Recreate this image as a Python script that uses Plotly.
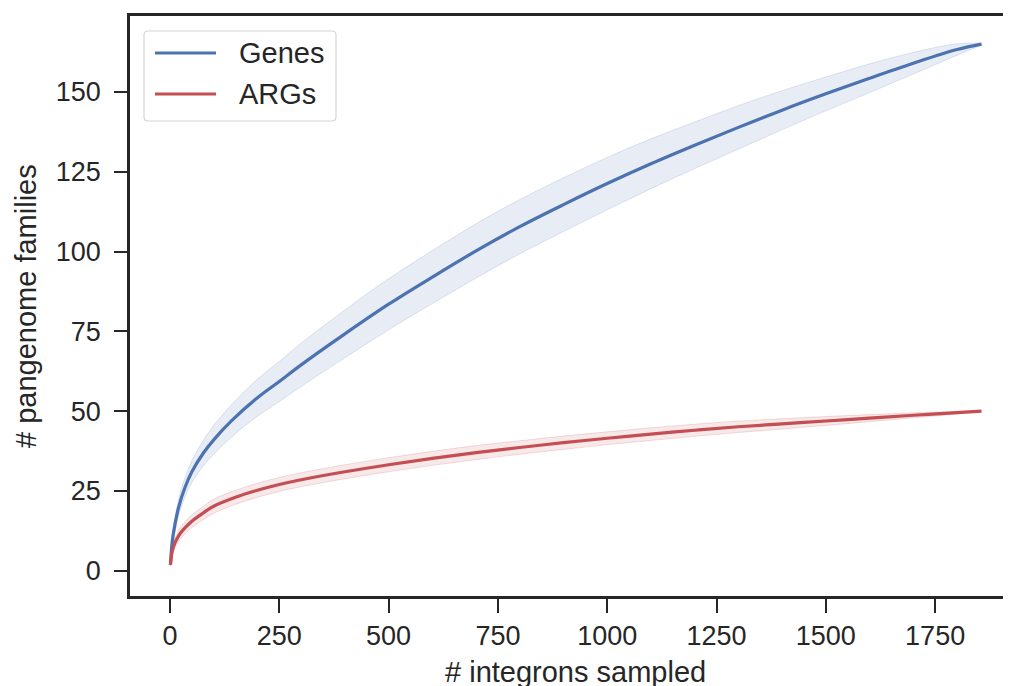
import numpy as np
import plotly.graph_objects as go

# ---- data ----
genes_x = [1, 5, 10, 20, 34, 50, 76, 100, 141, 200, 250, 300, 400, 500, 600, 700, 800,
           900, 1000, 1100, 1200, 1300, 1400, 1500, 1600, 1700, 1800, 1856]
genes_y = [1.8, 9.0, 13.5, 20.0, 26.0, 31.0, 36.8, 41.0, 47.0, 54.2, 59.3, 64.5, 74.2, 83.5,
           92.0, 100.2, 107.8, 114.7, 121.3, 127.5, 133.3, 138.9, 144.3, 149.4, 154.3,
           159.0, 163.3, 165.0]
genes_hw = [0.3, 1.5, 2.0, 2.6, 3.0, 3.4, 4.0, 4.5, 5.1, 5.8, 6.3, 6.8, 7.5, 8.0, 8.3, 8.5,
            8.5, 8.4, 8.2, 7.8, 7.3, 6.8, 6.1, 5.3, 4.5, 3.4, 1.8, 0.3]

args_x = [1, 5, 11, 20, 30, 50, 75, 100, 150, 200, 250, 300, 400, 500, 600, 700, 800,
          900, 1000, 1100, 1200, 1300, 1400, 1500, 1600, 1700, 1800, 1856]
args_y = [1.8, 6.0, 8.6, 11.0, 12.8, 15.5, 18.0, 20.2, 23.0, 25.2, 27.0, 28.5, 31.0, 33.2,
          35.2, 37.0, 38.6, 40.1, 41.5, 42.8, 44.0, 45.1, 46.0, 46.9, 47.8, 48.7, 49.5, 50.0]
args_hw = [0.3, 1.0, 1.4, 1.7, 1.9, 2.0, 2.1, 2.2, 2.2, 2.2, 2.2, 2.2, 2.2, 2.2, 2.2, 2.2,
           2.1, 2.1, 2.0, 2.0, 1.9, 1.8, 1.6, 1.4, 1.1, 0.8, 0.4, 0.1]

x_ticks = [0, 250, 500, 750, 1000, 1250, 1500, 1750]
y_ticks = [0, 25, 50, 75, 100, 125, 150]

BLUE = "#4C72B0"
RED = "#C44E52"
TXT = "#262626"
FONT = "Liberation Sans, Arial, sans-serif"

fig = go.Figure()

def band(x, y, hw, rgb):
    lo = (np.array(y) - np.array(hw)).tolist()
    hi = (np.array(y) + np.array(hw)).tolist()
    fig.add_trace(go.Scatter(x=x, y=lo, mode="lines", line=dict(color=f"rgba({rgb},0.18)", width=1, shape="spline"),
                             hoverinfo="skip", showlegend=False))
    fig.add_trace(go.Scatter(x=x, y=hi, mode="lines", fill="tonexty", fillcolor=f"rgba({rgb},0.13)",
                             line=dict(color=f"rgba({rgb},0.18)", width=1, shape="spline"),
                             hoverinfo="skip", showlegend=False))

band(genes_x, genes_y, genes_hw, "76,114,176")
band(args_x, args_y, args_hw, "196,78,82")

fig.add_trace(go.Scatter(x=genes_x, y=genes_y, mode="lines", name="Genes",
                         line=dict(color=BLUE, width=3.2, shape="spline"), showlegend=False))
fig.add_trace(go.Scatter(x=args_x, y=args_y, mode="lines", name="ARGs",
                         line=dict(color=RED, width=3.2, shape="spline"), showlegend=False))

# page body has an 8px margin: figure origin sits at (8, 8) in the window
OFF = 8
W, H = 1011 - OFF, 686 - OFF
L, T, R = 130 - OFF, 16 - OFF, 0
B = H - (596 - OFF)
pw, ph = W - L - R, H - T - B

def px(x):
    return (x - OFF - L) / pw

def py(y):
    return (H - B - (y - OFF)) / ph

# custom legend (box, line samples, labels)
bx0, bx1, by0, by1 = px(144), px(336), py(31), py(121)
rx, ry = 4 / pw, 4 / ph
path = (f"M {bx0+rx},{by0} L {bx1-rx},{by0} Q {bx1},{by0} {bx1},{by0-ry} "
        f"L {bx1},{by1+ry} Q {bx1},{by1} {bx1-rx},{by1} L {bx0+rx},{by1} "
        f"Q {bx0},{by1} {bx0},{by1+ry} L {bx0},{by0-ry} Q {bx0},{by0} {bx0+rx},{by0} Z")
shapes = [dict(type="path", path=path, xref="paper", yref="paper",
               fillcolor="rgba(255,255,255,0.85)", line=dict(color="#d4d4d4", width=1.2))]
annotations = []
for name, col, yy in [("Genes", BLUE, 53), ("ARGs", RED, 94)]:
    shapes.append(dict(type="line", xref="paper", yref="paper", x0=px(155), x1=px(216),
                       y0=py(yy), y1=py(yy), line=dict(color=col, width=3.2)))
    annotations.append(dict(text=name, xref="paper", yref="paper", x=px(237), y=py(yy),
                            xanchor="left", yanchor="middle", showarrow=False,
                            font=dict(family=FONT, size=29, color=TXT)))

annotations.append(dict(text="# integrons sampled", xref="paper", yref="paper",
                        x=px(575), y=0, xanchor="center", yanchor="top", yshift=-58,
                        showarrow=False, font=dict(family=FONT, size=29, color=TXT)))
annotations.append(dict(text="# pangenome families", xref="paper", yref="paper",
                        x=px(26), y=0.5, xanchor="center", yanchor="middle", textangle=-90,
                        showarrow=False, font=dict(family=FONT, size=29, color=TXT)))

axis_common = dict(showgrid=False, zeroline=False, showline=True, linecolor=TXT, linewidth=2.6,
                   ticks="outside", tickcolor=TXT, tickwidth=2.4,
                   tickfont=dict(family=FONT, size=27, color=TXT))

fig.update_layout(
    width=W, height=H,
    margin=dict(l=L, r=R, t=T, b=B, pad=0),
    paper_bgcolor="white", plot_bgcolor="white",
    xaxis=dict(range=[-91.5, 1923.5], tickvals=x_ticks, ticktext=[str(v) for v in x_ticks],
               ticklen=14, mirror=True, ticklabelstandoff=0, **axis_common),
    yaxis=dict(range=[-7.93, 173.8], tickvals=y_ticks, ticktext=[str(v) for v in y_ticks],
               ticklen=13, mirror=False, ticklabelstandoff=8, **axis_common),
    shapes=shapes, annotations=annotations,
    showlegend=False,
)

fig.write_html("out.html")
